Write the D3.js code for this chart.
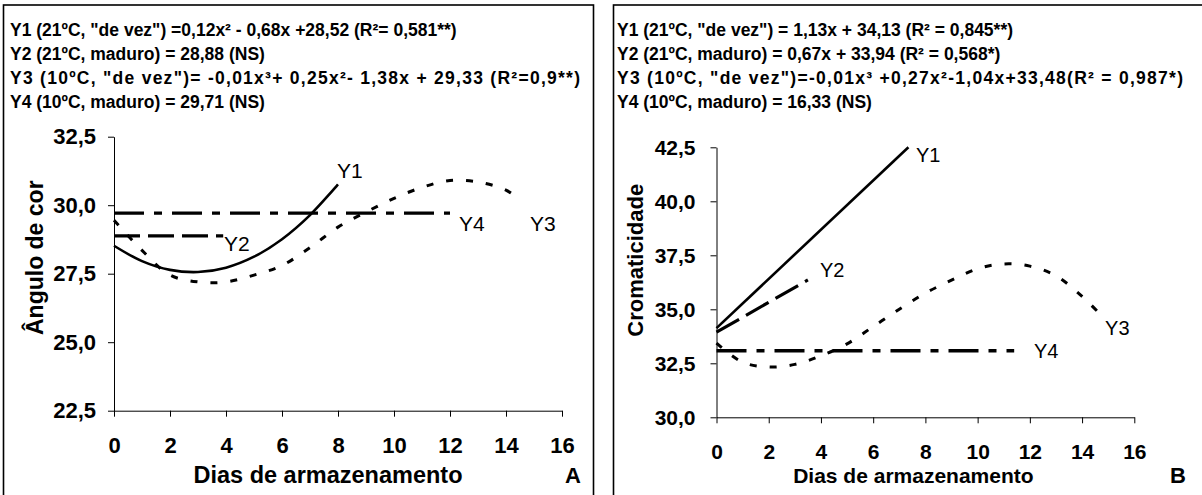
<!DOCTYPE html>
<html><head><meta charset="utf-8">
<script src="https://cdn.jsdelivr.net/npm/d3@7"></script>
<style>
html,body{margin:0;padding:0;background:#fff;}
svg{display:block;}
text{font-family:"Liberation Sans",Arial,Helvetica,sans-serif;fill:#000;}
</style></head><body>
<svg id="c" width="1202" height="495"></svg>
<script>
// ---------- data ----------
const equationsA = [
  'Y1 (21ºC, "de vez") =0,12x² - 0,68x +28,52 (R²= 0,581**)',
  'Y2 (21ºC, maduro) = 28,88 (NS)',
  'Y3 (10ºC, "de vez")= -0,01x³+ 0,25x²- 1,38x + 29,33 (R²=0,9**)',
  'Y4 (10ºC, maduro) = 29,71 (NS)'
];
const equationsB = [
  'Y1 (21ºC, "de vez") = 1,13x + 34,13 (R² = 0,845**)',
  'Y2 (21ºC, maduro) = 0,67x + 33,94 (R² = 0,568*)',
  'Y3 (10ºC, "de vez")=-0,01x³ +0,27x²-1,04x+33,48(R² = 0,987*)',
  'Y4 (10ºC, maduro) = 16,33 (NS)'
];
const xTicks = [0, 2, 4, 6, 8, 10, 12, 14, 16];
const yTicksA = [22.5, 25, 27.5, 30, 32.5];
const yTicksB = [30, 32.5, 35, 37.5, 40, 42.5];
const xTitle = "Dias de armazenamento";
const yTitleA = "Ângulo de cor";
const yTitleB = "Cromaticidade";

// Panel A (Ângulo de cor)
const a_y1_days = [0, 1, 2, 3, 4, 5, 6, 7, 8];
const a_y1_vals = [28.52, 27.96, 27.64, 27.56, 27.72, 28.12, 28.76, 29.64, 30.76];
const a_y2_days = [0, 3.9];
const a_y2_vals = [28.88, 28.88];
const a_y3_days = [0, 1, 2, 3, 4, 5, 6, 7, 8, 9, 10, 11, 12, 13, 14, 14.5];
const a_y3_vals = [29.45, 28.35, 27.45, 27.2, 27.2, 27.45, 27.8, 28.45, 29.2, 29.75, 30.25, 30.65, 30.9, 30.85, 30.55, 30.2];
const a_y4_days = [0, 12];
const a_y4_vals = [29.71, 29.71];
const a_labels = ["Y1", "Y2", "Y3", "Y4"];
const a_label_days = [7.96, 3.93, 14.86, 12.32];
const a_label_vals = [31.28, 28.62, 29.35, 29.35];

// Panel B (Cromaticidade)
const b_y1_days = [0, 7.35];
const b_y1_vals = [34.13, 42.5];
const b_y2_days = [0, 3.5];
const b_y2_vals = [33.94, 36.36];
const b_y3_days = [0, 1, 2, 3, 4, 5, 6, 7, 8, 9, 10, 11, 12, 13, 14, 14.75];
const b_y3_vals = [33.43, 32.55, 32.33, 32.45, 32.85, 33.4, 34.2, 35.0, 35.75, 36.35, 36.88, 37.1, 37.0, 36.55, 35.6, 34.7];
const b_y4_days = [0, 11.4];
const b_y4_vals = [33.08, 33.08];
const b_labels = ["Y1", "Y2", "Y3", "Y4"];
const b_label_days = [7.64, 3.96, 14.88, 12.16];
const b_label_vals = [42.14, 36.82, 34.13, 33.07];

// ---------- drawing ----------
const svg = d3.select("#c");
const fmt = v => d3.format(".1f")(v).replace(".", ",");
const styles = {
  Y1: {w: 2.6, dash: null},
  Y2: {w: 3.2, dash: "26,8"},
  Y3: {w: 3, dash: "7,13"},
  Y4: {w: 3.4, dash: "30,10,8,10"}
};

function panel(cfg) {
  const g = svg.append("g");
  // frame
  g.append("rect").attr("x", cfg.frame[0]).attr("y", cfg.frame[1])
    .attr("width", cfg.frame[2]).attr("height", cfg.frame[3])
    .attr("fill", "none").attr("stroke", "#000").attr("stroke-width", 1.6);
  // equations
  cfg.eqs.forEach((t, i) => {
    const tx = g.append("text").attr("x", cfg.eqX).attr("y", cfg.eqY0 + i * cfg.eqDY)
      .attr("font-size", cfg.eqFont).attr("font-weight", "bold").text(t);
    if (cfg.eqLen[i]) tx.attr("textLength", cfg.eqLen[i]).attr("lengthAdjust", "spacing");
  });
  const x = d3.scaleLinear().domain([0, 16]).range(cfg.xr);
  const y = d3.scaleLinear().domain(cfg.yd).range(cfg.yr);

  const ya = g.append("g").attr("transform", `translate(${x(0)},0)`)
    .call(d3.axisLeft(y).tickValues(cfg.yTicks).tickFormat(fmt)
      .tickSize(6).tickSizeOuter(0).tickPadding(cfg.yPad));
  const xa = g.append("g").attr("transform", `translate(0,${y(cfg.yd[0])})`)
    .call(d3.axisBottom(x).tickValues(xTicks).tickFormat(d3.format("d"))
      .tickSize(6).tickSizeOuter(0).tickPadding(cfg.xPad));
  [ya, xa].forEach(a => {
    a.attr("font-family", null).attr("font-size", null);
    a.selectAll("path,line").attr("stroke", "#000").attr("stroke-width", 1);
    a.selectAll("text").attr("font-size", cfg.tickFont).attr("font-weight", "bold")
      .attr("fill", "#000");
  });

  // axis titles
  g.append("text").attr("x", (x(0) + x(16)) / 2 + cfg.xTitleShift).attr("y", cfg.xTitleY)
    .attr("text-anchor", "middle").attr("font-size", cfg.xTitleFont)
    .attr("font-weight", "bold").text(xTitle);
  g.append("text").attr("x", cfg.letterX).attr("y", cfg.xTitleY)
    .attr("text-anchor", "middle").attr("font-size", 22)
    .attr("font-weight", "bold").text(cfg.letter);
  g.append("text")
    .attr("transform", `translate(${cfg.yTitleX},${(y(cfg.yd[0]) + y(cfg.yd[1])) / 2 + cfg.yTitleShift}) rotate(-90)`)
    .attr("text-anchor", "middle").attr("font-size", cfg.yTitleFont)
    .attr("font-weight", "bold").text(cfg.yTitle);

  // series
  const line = d3.line().x(d => x(d[0])).y(d => y(d[1])).curve(d3.curveCatmullRom.alpha(0.5));
  cfg.series.forEach(s => {
    const pts = s.days.map((d, i) => [d, s.vals[i]]);
    const st = styles[s.name];
    g.append("path").attr("d", line(pts)).attr("fill", "none")
      .attr("stroke", "#000").attr("stroke-width", st.w)
      .attr("stroke-dasharray", st.dash);
  });
  // series labels
  cfg.labels.forEach((l, i) => {
    g.append("text").attr("x", x(cfg.labelDays[i])).attr("y", y(cfg.labelVals[i]))
      .attr("dy", "0.36em").attr("font-size", cfg.labelFont).text(l);
  });
}

panel({
  frame: [3.5, 5, 590, 500],
  eqs: equationsA, eqX: 10, eqY0: 36, eqDY: 24, eqFont: 17.5, eqLen: [0, 0, 570, 0],
  xr: [114, 562], yd: [22.5, 32.5], yr: [410.7, 136.7],
  yTicks: yTicksA, yPad: 12, xPad: 21, tickFont: 22,
  xTitleShift: -10, xTitleY: 483, xTitleFont: 23.5,
  letter: "A", letterX: 573,
  yTitle: yTitleA, yTitleX: 43, yTitleShift: -16, yTitleFont: 23,
  series: [
    {name: "Y1", days: a_y1_days, vals: a_y1_vals},
    {name: "Y2", days: a_y2_days, vals: a_y2_vals},
    {name: "Y3", days: a_y3_days, vals: a_y3_vals},
    {name: "Y4", days: a_y4_days, vals: a_y4_vals}
  ],
  labels: a_labels, labelDays: a_label_days, labelVals: a_label_vals, labelFont: 21
});

panel({
  frame: [613.5, 5, 590, 500],
  eqs: equationsB, eqX: 617, eqY0: 36, eqDY: 24, eqFont: 17.5, eqLen: [0, 0, 566, 0],
  xr: [716.5, 1134.3], yd: [30, 42.5], yr: [417.3, 147.3],
  yTicks: yTicksB, yPad: 15, xPad: 21, tickFont: 21,
  xTitleShift: -12, xTitleY: 483, xTitleFont: 21,
  letter: "B", letterX: 1178,
  yTitle: yTitleB, yTitleX: 643, yTitleShift: -22, yTitleFont: 22,
  series: [
    {name: "Y1", days: b_y1_days, vals: b_y1_vals},
    {name: "Y2", days: b_y2_days, vals: b_y2_vals},
    {name: "Y3", days: b_y3_days, vals: b_y3_vals},
    {name: "Y4", days: b_y4_days, vals: b_y4_vals}
  ],
  labels: b_labels, labelDays: b_label_days, labelVals: b_label_vals, labelFont: 20
});
</script>
</body></html>
